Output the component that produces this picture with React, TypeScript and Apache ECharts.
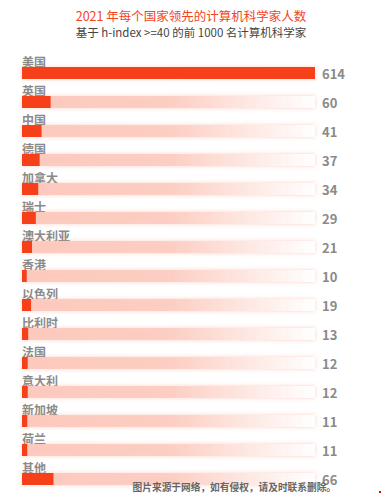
import React, { useEffect, useRef } from "react";
import * as echarts from "echarts";

const categories = ["美国", "英国", "中国", "德国", "加拿大", "瑞士", "澳大利亚", "香港", "以色列", "比利时", "法国", "意大利", "新加坡", "荷兰", "其他"];
const values = [614, 60, 41, 37, 34, 29, 21, 10, 19, 13, 12, 12, 11, 11, 66];
const maxValue = 614;
const titleText = "2021 年每个国家领先的计算机科学家人数";
const subtitleText = "基于 h-index >=40 的前 1000 名计算机科学家";
const noteText = "图片来源于网络，如有侵权，请及时联系删除。";

export default function App() {
  const ref = useRef<HTMLDivElement>(null);
  useEffect(() => {
    if (!ref.current) return;
    const chart = echarts.init(ref.current, undefined, { renderer: "svg" });
    const font = '"Noto Sans CJK SC", "Noto Sans", sans-serif';
    chart.setOption({
      animation: false,
      title: {
        text: titleText,
        subtext: subtitleText,
        left: "center",
        top: 4,
        itemGap: 5,
        textStyle: { color: "#f4441e", fontSize: 12.5, fontWeight: "normal", fontFamily: font },
        subtextStyle: { color: "#444", fontSize: 11.5, fontFamily: font },
      },
      grid: { left: 22, right: 67, top: 58.5, bottom: 0.5 },
      xAxis: { type: "value", max: maxValue, min: 0, show: false },
      yAxis: {
        type: "category",
        data: categories,
        inverse: true,
        axisLine: { show: false },
        axisTick: { show: false },
        axisLabel: {
          inside: true,
          margin: 0,
          verticalAlign: "bottom",
          padding: [0, 0, 6, 0],
          color: "#8a8a8a",
          fontSize: 12,
          fontWeight: "bold",
          fontFamily: font,
        },
      },
      series: [
        {
          type: "bar",
          data: values.map(() => maxValue),
          barWidth: 12,
          barGap: "-100%",
          silent: true,
          itemStyle: {
            color: new echarts.graphic.LinearGradient(0, 0, 1, 0, [
              { offset: 0, color: "rgba(252,200,188,0.95)" },
              { offset: 0.5, color: "rgba(252,205,193,0.95)" },
              { offset: 1, color: "rgba(255,255,255,1)" },
            ]),
            shadowColor: "rgba(250,150,130,0.45)",
            shadowBlur: 4,
          },
          label: {
            show: true,
            position: "right",
            distance: 7,
            formatter: (p: any) => String(values[p.dataIndex]),
            color: "#8a8a8a",
            fontSize: 13,
            fontWeight: "bold",
            fontFamily: font,
          },
          z: 1,
        },
        {
          type: "bar",
          data: values,
          barWidth: 12,
          itemStyle: { color: "#f5401a" },
          z: 2,
        },
      ],
      graphic: [
        {
          type: "text",
          right: 46,
          top: 482,
          z: 100,
          style: {
            text: noteText,
            fill: "#666",
            fontSize: 9.7,
            fontWeight: "bold",
            fontFamily: font,
          },
        },
        {
          type: "rect",
          left: 379,
          top: 491,
          z: 100,
          shape: { width: 2, height: 2 },
          style: { fill: "#e00" },
        },
      ],
    });
    return () => chart.dispose();
  }, []);
  return <div ref={ref} style={{ width: 382, height: 494, position: "absolute", left: 0, top: 0 }} />;
}
